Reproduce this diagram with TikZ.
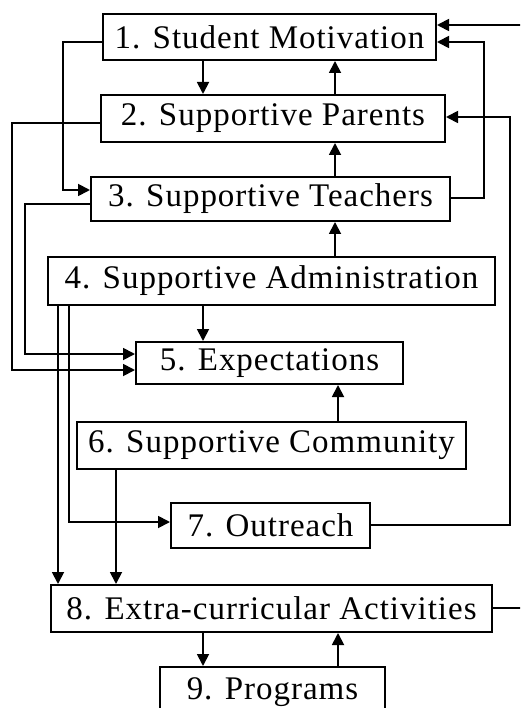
\documentclass[tikz,border=0pt]{standalone}
\usepackage{fontspec}
\setmainfont[LetterSpace=3]{Liberation Serif}
\usetikzlibrary{arrows.meta}
\begin{document}
\begin{tikzpicture}[x=1pt,y=-1pt,
  box/.style={draw,line width=2pt,inner sep=0pt,anchor=center,font=\fontsize{33}{36}\selectfont},
  conn/.style={line width=1.8pt},
  arr/.style={conn,-{Triangle[length=12pt,width=12pt]}}]
\useasboundingbox (0,0) rectangle (520,708);
\clip (0,0) rectangle (520,708);
\node[box,minimum width=333pt,minimum height=46pt] (b1) at (269.5,37) {1. Student Motivation};
\node[box,minimum width=344pt,minimum height=47pt] (b2) at (273,118.5) {2. Supportive Parents};
\node[box,minimum width=359pt,minimum height=44pt] (b3) at (270.5,199) {3. Supportive Teachers};
\node[box,minimum width=447pt,minimum height=48pt] (b4) at (271.5,281) {4. Supportive Administration};
\node[box,minimum width=267pt,minimum height=42pt] (b5) at (269.5,363) {5. Expectations};
\node[box,minimum width=389pt,minimum height=47pt] (b6) at (271.5,445.5) {6. Supportive Community};
\node[box,minimum width=199pt,minimum height=45pt] (b7) at (270.5,525.5) {7. Outreach};
\node[box,minimum width=441pt,minimum height=47pt] (b8) at (271.5,608.5) {8. Extra-curricular Activities};
\node[box,minimum width=225pt,minimum height=50pt] (b9) at (272.5,692) {9. Programs};
% vertical arrows between stacked boxes
\draw[arr] (b1.south -| 203,0) -- (b2.north -| 203,0);
\draw[arr] (b2.north -| 335,0) -- (b1.south -| 335,0);
\draw[arr] (b3.north -| 335,0) -- (b2.south -| 335,0);
\draw[arr] (b4.north -| 335,0) -- (b3.south -| 335,0);
\draw[arr] (b4.south -| 203,0) -- (b5.north -| 203,0);
\draw[arr] (b6.north -| 338,0) -- (b5.south -| 338,0);
\draw[arr] (b8.south -| 203,0) -- (b9.north -| 203,0);
\draw[arr] (b9.north -| 338,0) -- (b8.south -| 338,0);
% left side loops
\draw[arr] (b1.west |- 0,42) -| (63,190) -- (b3.west |- 0,190);
\draw[arr] (b2.west |- 0,123) -| (12,370) -- (b5.west |- 0,370);
\draw[arr] (b3.west |- 0,204) -| (25,354) -- (b5.west |- 0,354);
\draw[arr] (b4.south -| 58,0) -- (b8.north -| 58,0);
\draw[arr] (b4.south -| 69,0) |- (b7.west |- 0,522);
\draw[arr] (b6.south -| 116,0) -- (b8.north -| 116,0);
% right side loops
\draw[arr] (b3.east |- 0,198) -| (484,42) -- (b1.east |- 0,42);
\draw[arr] (b7.east |- 0,525) -| (510,117) -- (b2.east |- 0,117);
\draw[arr] (b8.east |- 0,608) -| (526,25) -- (b1.east |- 0,25);
\end{tikzpicture}
\end{document}
